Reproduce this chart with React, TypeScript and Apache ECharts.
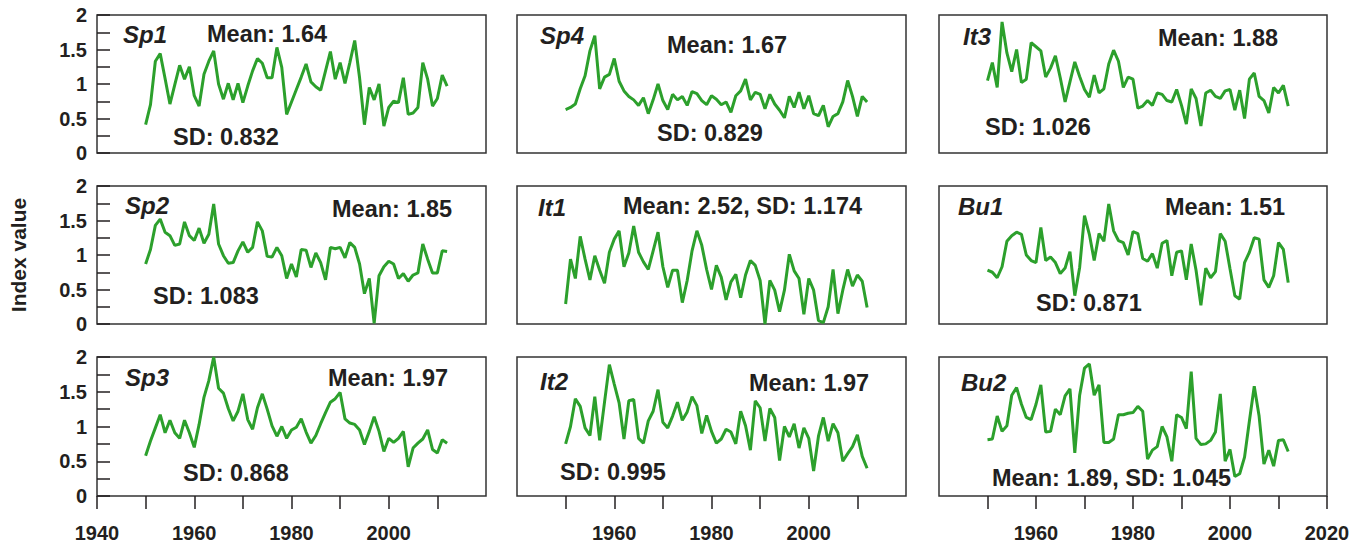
import React, { useEffect, useRef } from "react";
import * as echarts from "echarts";

// ---------- data ----------
const startYear = 1950;
const years: number[] = Array.from({ length: 63 }, (_, i) => startYear + i);

const sp1 = [0.41,0.70,1.33,1.44,1.08,0.71,0.99,1.27,1.07,1.25,0.83,0.68,1.14,1.33,1.48,1.00,0.78,1.01,0.77,1.01,0.73,0.97,1.19,1.37,1.30,1.09,1.09,1.53,1.24,0.56,0.74,0.92,1.10,1.29,1.03,0.96,0.91,1.19,1.47,1.07,1.31,1.01,1.31,1.63,1.09,0.41,0.95,0.77,1.00,0.39,0.66,0.75,0.73,1.09,0.56,0.58,0.66,1.31,1.07,0.68,0.79,1.13,0.97];
const sp4 = [0.63,0.66,0.71,0.93,1.12,1.48,1.70,0.93,1.10,1.14,1.37,1.04,0.90,0.82,0.77,0.69,0.80,0.57,0.77,1.00,0.76,0.63,0.85,0.77,0.82,0.69,0.89,0.86,0.76,0.70,0.83,0.78,0.70,0.74,0.59,0.83,0.90,1.07,0.77,0.88,0.85,0.64,0.85,0.71,0.62,0.51,0.82,0.66,0.88,0.64,0.83,0.57,0.54,0.69,0.38,0.53,0.57,0.74,1.05,0.82,0.53,0.82,0.74];
const it3 = [1.05,1.31,0.95,1.90,1.45,1.18,1.50,1.02,1.07,1.60,1.54,1.48,1.10,1.23,1.41,1.09,0.74,1.03,1.32,1.11,0.92,0.81,1.13,0.87,0.93,1.29,1.49,1.33,0.95,1.10,1.07,0.65,0.68,0.76,0.69,0.87,0.85,0.76,0.74,0.92,0.69,0.42,0.93,0.79,0.39,0.87,0.91,0.82,0.79,0.90,0.92,0.62,0.91,0.50,1.07,1.16,0.82,0.76,0.58,0.95,0.87,0.98,0.68];
const sp2 = [0.87,1.08,1.43,1.52,1.33,1.28,1.14,1.16,1.48,1.28,1.21,1.39,1.17,1.30,1.74,1.16,0.99,0.88,0.89,1.06,1.19,1.04,1.11,1.48,1.35,0.98,0.97,1.11,0.99,0.66,0.87,0.68,1.08,1.07,0.82,1.03,0.89,0.64,1.11,1.09,1.11,0.96,1.18,1.11,0.87,0.44,0.66,0.01,0.70,0.83,0.91,0.87,0.66,0.73,0.62,0.71,0.74,1.16,0.94,0.74,0.74,1.06,1.05];
const it1 = [0.29,0.94,0.66,1.27,0.94,0.64,0.99,0.78,0.59,1.04,1.23,1.35,0.83,1.03,1.42,1.04,0.90,0.79,1.06,1.33,0.83,0.53,0.78,0.78,0.31,0.63,1.06,1.35,1.14,0.79,0.50,0.85,0.68,0.35,0.61,0.72,0.38,0.71,0.92,0.85,0.63,0.00,0.63,0.49,0.18,0.49,1.01,0.77,0.66,0.14,0.66,0.49,0.05,0.02,0.25,0.79,0.15,0.49,0.79,0.55,0.71,0.62,0.24];
const bu1 = [0.78,0.75,0.67,0.83,1.20,1.28,1.33,1.30,1.00,0.92,0.89,1.40,0.92,0.97,0.89,0.73,0.81,1.05,0.41,0.82,1.57,1.30,0.92,1.31,1.20,1.74,1.35,1.21,1.18,1.00,1.34,1.31,0.95,0.91,1.02,0.81,1.17,1.21,0.70,1.04,1.06,0.64,1.16,0.78,0.27,0.81,0.67,0.76,1.31,1.20,0.80,0.41,0.36,0.89,1.04,1.25,1.23,0.64,0.53,0.70,1.18,1.08,0.60];
const sp3 = [0.58,0.79,0.98,1.17,0.91,1.09,0.91,0.83,1.09,0.91,0.70,1.03,1.42,1.66,2.00,1.55,1.48,1.26,1.08,1.22,1.47,1.10,0.96,1.27,1.47,1.25,1.01,0.86,1.00,0.83,0.95,0.99,1.11,0.92,0.76,0.87,1.04,1.20,1.35,1.40,1.49,1.11,1.05,1.03,0.95,0.74,0.93,1.14,0.93,0.64,0.83,0.77,0.83,0.93,0.42,0.69,0.76,0.82,0.95,0.67,0.62,0.81,0.76];
const it2 = [0.75,1.00,1.40,1.29,0.98,0.87,1.43,0.80,1.35,1.89,1.61,1.34,0.82,1.37,1.39,0.83,0.76,1.08,1.22,1.53,1.06,0.98,1.15,1.35,1.09,1.21,1.43,1.30,0.90,1.16,0.93,0.76,0.82,0.96,0.92,0.75,1.22,1.01,0.66,1.37,1.27,0.79,1.26,1.13,0.51,1.00,0.85,1.04,0.69,0.98,0.83,0.36,0.86,1.13,0.79,1.04,0.91,0.50,0.61,0.71,0.88,0.57,0.40];
const bu2 = [0.81,0.82,1.15,0.93,1.01,1.45,1.56,1.32,1.13,1.10,1.32,1.60,0.92,0.93,1.25,1.17,1.44,1.54,0.62,1.45,1.84,1.90,1.45,1.60,0.77,0.77,0.82,1.17,1.17,1.19,1.20,1.29,1.22,0.53,0.66,0.71,1.00,0.85,0.50,1.17,1.13,0.97,1.79,0.83,0.74,0.75,0.80,0.92,1.47,0.50,0.67,0.28,0.32,0.56,1.08,1.58,1.15,0.46,0.66,0.43,0.80,0.81,0.64];

// panel order: row by row
const panelSeries = [sp1, sp4, it3, sp2, it1, bu1, sp3, it2, bu2];
const panelNames = ["Sp1", "Sp4", "It3", "Sp2", "It1", "Bu1", "Sp3", "It2", "Bu2"];
const meanTexts = ["Mean: 1.64", "Mean: 1.67", "Mean: 1.88", "Mean: 1.85", "Mean: 2.52, SD: 1.174", "Mean: 1.51", "Mean: 1.97", "Mean: 1.97", "Mean: 1.89, SD: 1.045"];
const sdTexts = ["SD: 0.832", "SD: 0.829", "SD: 1.026", "SD: 1.083", "", "SD: 0.871", "SD: 0.868", "SD: 0.995", ""];

const yTickValues = [0, 0.25, 0.5, 0.75, 1, 1.25, 1.5, 1.75, 2];
const yLabelValues = [0, 0.5, 1, 1.5, 2];
const xTickValuesByCol = [
  [1940, 1950, 1960, 1970, 1980, 1990, 2000, 2010],
  [1950, 1960, 1970, 1980, 1990, 2000, 2010],
  [1950, 1960, 1970, 1980, 1990, 2000, 2010, 2020],
];
const xLabelValuesByCol = [
  [1940, 1960, 1980, 2000],
  [1960, 1980, 2000],
  [1960, 1980, 2000, 2020],
];
const yAxisTitle = "Index value";

// ---------- layout ----------
const colBoxes = [
  { left: 97, width: 389 },
  { left: 517, width: 389 },
  { left: 939, width: 388 },
];
const rowBoxes = [
  { top: 15, height: 138 },
  { top: 186, height: 138 },
  { top: 357, height: 139 },
];
// text anchor positions (left x, middle y) per panel
const namePos = [[123, 34], [540, 35], [963, 36], [125, 205], [538, 207], [958, 206], [125, 377], [540, 381], [961, 382]];
const meanPos = [[207, 34], [667, 45], [1158, 38], [332, 209], [623, 206], [1165, 207], [328, 378], [749, 383], [992, 478]];
const sdPos = [[173, 137], [657, 133], [985, 127], [153, 296], [0, 0], [1036, 303], [183, 473], [560, 472], [0, 0]];

const INK = "#231f20";
const GREEN = "#2ca02c";
const FONT = "'Liberation Sans', Arial, Helvetica, sans-serif";

export default function App() {
  const ref = useRef<HTMLDivElement>(null);

  useEffect(() => {
    if (!ref.current) return;
    const chart = echarts.init(ref.current, null, { renderer: "svg" });

    const grids: any[] = [];
    const xAxes: any[] = [];
    const yAxes: any[] = [];
    const series: any[] = [];
    const graphics: any[] = [];

    for (let r = 0; r < 3; r++) {
      for (let c = 0; c < 3; c++) {
        const i = r * 3 + c;
        grids.push({
          left: colBoxes[c].left,
          width: colBoxes[c].width,
          top: rowBoxes[r].top,
          height: rowBoxes[r].height,
          containLabel: false,
          outerBoundsMode: "none",
          show: true,
          borderColor: "#333333",
          borderWidth: 1.5,
          backgroundColor: "transparent",
        });
        const bottom = r === 2;
        xAxes.push({
          type: "value",
          gridIndex: i,
          min: 1940,
          max: 2020,
          interval: 10,
          axisLine: { show: false },
          splitLine: { show: false },
          axisTick: {
            show: bottom,
            length: 13,
            customValues: xTickValuesByCol[c],
            lineStyle: { color: INK, width: 1.5 },
          },
          axisLabel: {
            show: bottom,
            customValues: xLabelValuesByCol[c],
            formatter: (v: number) => String(v),
            margin: 27,
            fontSize: 20,
            fontWeight: "bold",
            color: INK,
            fontFamily: FONT,
          },
        });
        const leftCol = c === 0;
        yAxes.push({
          type: "value",
          gridIndex: i,
          min: 0,
          max: 2,
          interval: 0.5,
          axisLine: { show: false },
          splitLine: { show: false },
          axisTick: {
            show: leftCol,
            inside: true,
            length: 13,
            customValues: yTickValues,
            lineStyle: { color: INK, width: 1.5 },
          },
          axisLabel: {
            show: leftCol,
            customValues: yLabelValues,
            formatter: (v: number) => String(v),
            margin: 10,
            fontSize: 20,
            fontWeight: "bold",
            color: INK,
            fontFamily: FONT,
          },
        });
        series.push({
          type: "line",
          xAxisIndex: i,
          yAxisIndex: i,
          data: years.map((y, k) => [y, panelSeries[i][k]]),
          showSymbol: false,
          symbol: "none",
          lineStyle: { color: GREEN, width: 3 },
          itemStyle: { color: GREEN },
          z: 3,
        });
        graphics.push({
          type: "text",
          x: namePos[i][0],
          y: namePos[i][1],
          style: {
            text: panelNames[i],
            fill: INK,
            font: `italic bold 24px ${FONT}`,
            align: "left",
            verticalAlign: "middle",
          },
        });
        graphics.push({
          type: "text",
          x: meanPos[i][0],
          y: meanPos[i][1],
          style: {
            text: meanTexts[i],
            fill: INK,
            font: `bold 23.5px ${FONT}`,
            align: "left",
            verticalAlign: "middle",
          },
        });
        if (sdTexts[i]) {
          graphics.push({
            type: "text",
            x: sdPos[i][0],
            y: sdPos[i][1],
            style: {
              text: sdTexts[i],
              fill: INK,
              font: `bold 23.5px ${FONT}`,
              align: "left",
              verticalAlign: "middle",
            },
          });
        }
      }
    }

    graphics.push({
      type: "text",
      x: 18,
      y: 255,
      rotation: Math.PI / 2,
      style: {
        text: yAxisTitle,
        fill: INK,
        font: `bold 21px ${FONT}`,
        align: "center",
        verticalAlign: "middle",
      },
    });

    chart.setOption({
      animation: false,
      backgroundColor: "#ffffff",
      grid: grids,
      xAxis: xAxes,
      yAxis: yAxes,
      series,
      graphic: graphics,
    });

    return () => chart.dispose();
  }, []);

  return (
    <div
      ref={ref}
      style={{ position: "fixed", left: 0, top: 0, width: 1367, height: 545 }}
    />
  );
}
